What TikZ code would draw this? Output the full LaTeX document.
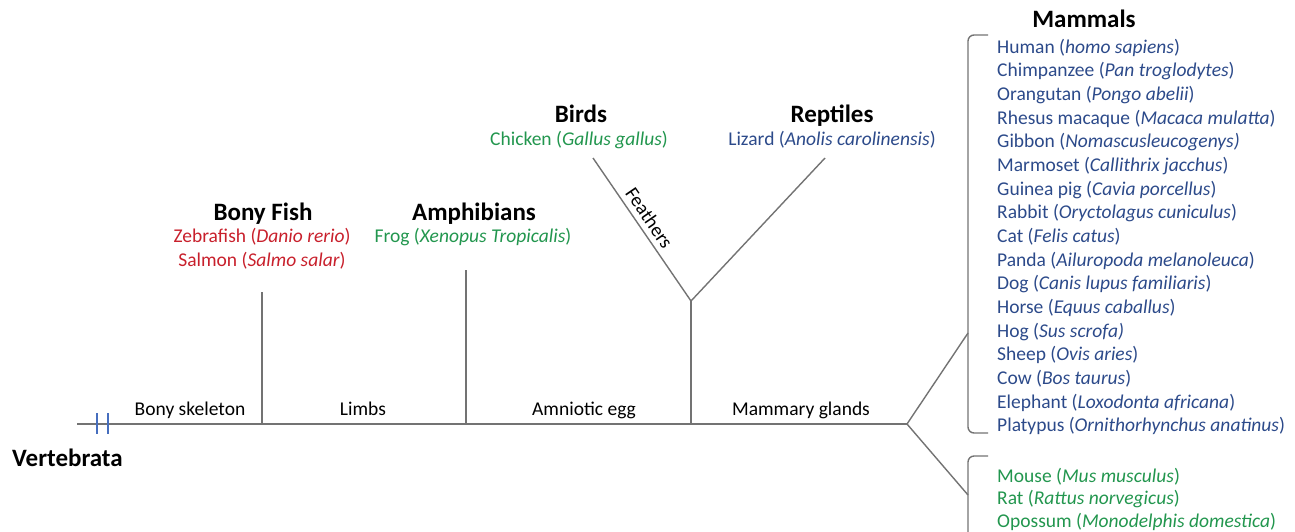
\documentclass[tikz,border=0pt]{standalone}
\usepackage{fontspec}
\setmainfont{Carlito}
\definecolor{tblue}{RGB}{44,74,138}
\definecolor{tred}{RGB}{200,32,44}
\definecolor{tgreen}{RGB}{34,150,78}
\definecolor{tgray}{RGB}{115,115,115}
\definecolor{ttick}{RGB}{70,110,190}
\begin{document}
\begin{tikzpicture}[x=1pt,y=-1pt,
  branch/.style={draw=tgray, line width=1.4pt},
  tickmark/.style={draw=ttick, line width=1.2pt},
  title/.style={font=\fontsize{25}{30}\selectfont\bfseries, inner sep=0pt, anchor=base},
  body/.style={font=\fontsize{19.5}{23.7}\selectfont, inner sep=0pt, anchor=base},
  listitem/.style={body, anchor=base west, text=tblue},
  trait/.style={body, text=black}]
\useasboundingbox (0,0) rectangle (1295,531);

% tree coordinates
\coordinate (root) at (77,424);
\coordinate (bf) at (262,424);  \coordinate (bftop) at (262,292);
\coordinate (am) at (466,424);  \coordinate (amtop) at (466,270);
\coordinate (an) at (691,424);  \coordinate (anv) at (691,301);
\coordinate (birdtop) at (593,158); \coordinate (reptop) at (825,158);
\coordinate (mm) at (907,424);
\coordinate (upper) at (968,333); \coordinate (lower) at (968,495);

\draw[branch] (root) -- (mm);
\draw[branch] (bf) -- (bftop);
\draw[branch] (am) -- (amtop);
\draw[branch] (an) -- (anv);
\draw[branch] (birdtop) -- node[pos=0.47, sloped, above, inner sep=5pt, font=\fontsize{19.5}{23.7}\selectfont] (feath) {Feathers} (anv);
\draw[branch] (anv) -- (reptop);
\draw[branch] (mm) -- (upper);
\draw[branch] (mm) -- (lower);

% brackets
\draw[branch, rounded corners=6pt] (988,35) -- (968,35) -- (968,433) -- (988,433);
\draw[branch, rounded corners=6pt] (988,456) -- (968,456) -- (968,535);

% ticks
\draw[tickmark] (97,413) -- (97,434);
\draw[tickmark] (108,413) -- (108,434);

% labels
\node[title, anchor=base west] (vert) at (12,466) {Vertebrata};
\node[trait] (t1) at (190,415) {Bony skeleton};
\node[trait] (t2) at (363,415) {Limbs};
\node[trait] (t3) at (584,415) {Amniotic egg};
\node[trait] (t4) at (801,415) {Mammary glands};

\node[title] (fish) at (263,220) {Bony Fish};
\node[body, text=tred] (zeb) at (262,242) {Zebrafish (\textit{Danio rerio})};
\node[body, text=tred] (sal) at (262,266) {Salmon (\textit{Salmo salar})};

\node[title] (amph) at (474,220) {Amphibians};
\node[body, text=tgreen] (frog) at (473,242) {Frog (\textit{Xenopus Tropicalis})};

\node[title] (bird) at (581,122) {Birds};
\node[body, text=tgreen] (chick) at (579,145) {Chicken (\textit{Gallus gallus})};

\node[title] (rept) at (832,122) {Reptiles};
\node[body, text=tblue] (liz) at (832,145) {Lizard (\textit{Anolis carolinensis})};

\node[title] (mamm) at (1084,27) {Mammals};

\foreach \t [count=\i] in {
  Human (\textit{homo sapiens}),
  Chimpanzee (\textit{Pan troglodytes}),
  Orangutan (\textit{Pongo abelii}),
  Rhesus macaque (\textit{Macaca mulatta}),
  Gibbon (\textit{Nomascusleucogenys)},
  Marmoset (\textit{Callithrix jacchus}),
  Guinea pig (\textit{Cavia porcellus}),
  Rabbit (\textit{Oryctolagus cuniculus}),
  Cat (\textit{Felis catus}),
  Panda (\textit{Ailuropoda melanoleuca}),
  Dog (\textit{Canis lupus familiaris}),
  Horse (\textit{Equus caballus}),
  Hog (\textit{Sus scrofa)},
  Sheep (\textit{Ovis aries}),
  Cow (\textit{Bos taurus}),
  Elephant (\textit{Loxodonta africana}),
  Platypus (\textit{Ornithorhynchus anatinus})}
  \node[listitem] (m\i) at (997,{53+(\i-1)*23.67}) {\t};

\foreach \t [count=\i] in {
  Mouse (\textit{Mus musculus}),
  Rat (\textit{Rattus norvegicus}),
  Opossum (\textit{Monodelphis domestica})}
  \node[listitem, text=tgreen] (r\i) at (997,{482+(\i-1)*22.5}) {\t};
\end{tikzpicture}
\end{document}
